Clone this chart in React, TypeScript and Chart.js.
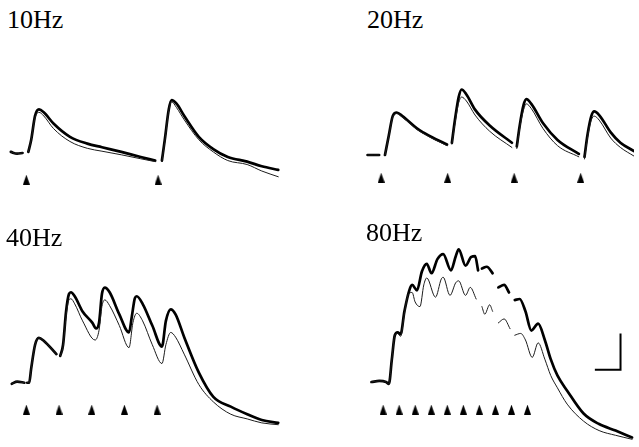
import React, { useEffect, useRef } from "react";
import { Chart, registerables } from "chart.js";

Chart.register(...registerables);

type Pair = [number, number | null];

// ---------- data: time (ms from first stimulus), amplitude (a.u.; scale bar = 10) ----------
// 10 Hz
const hz10Stimuli = [0, 100];
const hz10Control: Pair[] = [
  [-11.8, 0.3], [-7, -0.2], [-2.9, 0], [-1, null],
  [1.5, 0.3], [3.7, 3.7], [6.6, 10.3], [9.6, 12.1], [13.2, 11.3], [20.6, 8.2], [33.1, 4.5],
  [46.3, 2.6], [57.4, 1.6], [72.1, 0.3], [86.8, -1.1], [97.8, -2.1], [100, null],
  [102.9, -2.1], [105.1, 3.7], [108.1, 12.1], [110.3, 14.7], [114, 13.7], [119.9, 10.3],
  [130.9, 4.5], [141.9, 1.1], [152.9, -1.1], [167.6, -2.4], [178.7, -3.7], [191.2, -4.7],
];
const hz10Treated: Pair[] = [
  [-11.8, 0.3], [-7, -0.2], [-2.9, 0], [-1, null],
  [1.5, 0.3], [3.7, 3.7], [6.6, 9.8], [9.6, 11.3], [13.2, 10.3], [20.6, 6.8], [33.1, 3.2],
  [46.3, 1.3], [57.4, 0.5], [72.1, -0.5], [86.8, -1.6], [97.8, -2.4], [100, null],
  [102.9, -2.4], [105.1, 3.2], [108.1, 11.8], [110.3, 14.2], [114, 12.6], [119.9, 9.2],
  [130.9, 3.7], [141.9, 0.3], [152.9, -2.1], [167.6, -3.2], [178.7, -5], [191.2, -6.6],
];

// 20 Hz
const hz20Stimuli = [0, 50, 100, 150];
const hz20Control: Pair[] = [
  [-10.2, 0], [-1.5, 0], [0.5, null],
  [2.9, 0], [5.8, 5.5], [8.7, 10.8], [11.7, 11.8], [16, 10.8], [26.9, 7.4], [32, 6.2], [37.9, 5],
  [49.5, 2.9], [51, null],
  [53.2, 3.4], [55.4, 9.5], [58.3, 16.1], [60.5, 18.2], [64.1, 16.8], [70.6, 12.6], [81.6, 8.2],
  [98.3, 3.4], [100, null],
  [102, 2.4], [104.2, 8.2], [107.1, 13.9], [109.2, 15.5], [112.9, 14.2], [121.6, 8.9], [132.6, 4.2],
  [148.6, 0.3], [150.5, null],
  [152.9, -0.5], [155.1, 5.5], [158, 10.8], [160.2, 12.1], [163.9, 11.1], [172.6, 6.3],
  [179.9, 3.4], [190.1, 1.1],
];
const hz20Treated: Pair[] = [
  [-10.2, 0], [-1.5, 0], [0.5, null],
  [2.9, 0], [5.8, 5.3], [8.7, 10.5], [11.7, 11.5], [16, 10.5], [26.9, 7.1], [32, 5.9], [37.9, 4.7],
  [49.5, 2.6], [51, null],
  [53.2, 3.0], [55.4, 8.5], [58.3, 14.5], [60.5, 16.1], [64.1, 15], [70.6, 11.1], [81.6, 6.6],
  [98.3, 2.1], [100, null],
  [102, 1.8], [104.2, 7.5], [107.1, 12.6], [109.2, 14.2], [112.9, 12.9], [121.6, 7.4], [132.6, 2.6],
  [148.6, -0.5], [150.5, null],
  [152.9, -1.1], [155.1, 4.7], [158, 9.7], [160.2, 10.8], [163.9, 9.7], [172.6, 4.7],
  [179.9, 2.1], [190.1, -0.3],
];

// 40 Hz
const hz40Stimuli = [0, 25, 50, 75, 100];
const hz40Control: Pair[] = [
  [-11.1, -0.3], [-7, 0.3], [-1.5, 0], [-0.5, null],
  [0.7, 0], [2.2, 0], [3.7, 3.9], [6.7, 10.5], [9.6, 12.4], [13.3, 11.6], [23, 7.9], [24.5, null],
  [25.9, 7.4], [28.1, 10.5], [30.4, 19.7], [32.6, 24.5], [34.1, 25], [37, 23.9], [43, 19.7],
  [50.4, 16.6], [53.3, 15], [55.6, 16.6], [57.8, 24.5], [60, 26.3], [63.7, 25], [71.1, 18.9],
  [78.5, 13.9], [80.7, 18.4], [83, 23.4], [84.4, 23.9], [88.9, 21.8], [96.3, 15.8], [103.7, 10],
  [106.7, 17.1], [110.4, 20.3], [114.1, 18.9], [120.7, 12.6], [131.9, 2.8], [143, -3.9],
  [156.3, -6.6], [168.9, -8.7], [180, -10.3], [192.6, -11.1],
];
const hz40Treated: Pair[] = [
  [-11.1, -0.3], [-7, 0.3], [-1.5, 0], [-0.5, null],
  [0.7, 0], [2.2, 0], [3.7, 3.9], [6.7, 10.5], [9.6, 12.4], [13.3, 11.6], [23, 7.9], [24.5, null],
  [25.9, 7.4], [28.1, 10], [30.4, 18.4], [32.6, 22.9], [34.1, 23.2], [37, 21.8], [43, 17.1],
  [52.6, 11.8], [55.6, 14.5], [57.8, 21.1], [60, 22.9], [63.7, 21.3], [71.1, 15.8], [78.5, 9.7],
  [81.5, 16.6], [84.4, 19.2], [88.9, 17.1], [96.3, 10.5], [103.7, 5.3], [106.7, 10.5],
  [110.4, 13.9], [114.1, 12.6], [120.7, 7.9], [131.9, -0.5], [143, -5.3], [156.3, -8.7],
  [168.9, -10], [180, -11.1], [192.6, -11.6],
];

// 80 Hz
const hz80Stimuli = [0, 12.5, 25, 37.5, 50, 62.5, 75, 87.5, 100, 112.5];
const hz80Control: Pair[] = [
  [-9.1, 0], [-3, 0.3], [2.3, 0], [4.5, -0.5], [6.8, 6.3], [9.1, 12.9], [11.3, 13.7], [13.6, 13.2],
  [16.6, 19.5], [20.4, 25.3], [22.6, 26.8], [26.4, 25.3], [30.2, 30.5], [34, 32.6], [37.7, 30],
  [42.3, 33.9], [46.8, 35.3], [52.8, 30.8], [56.6, 34.7], [58.9, 36.6], [64.2, 32.1], [68.7, 34.5],
  [71.7, 34.7], [74, 30.8], [75.5, null],
  [77, 31.3], [80.8, 31.8], [85.3, 30], [87.5, null],
  [89.8, 26.1], [94.3, 26.8], [98.1, 24.7], [100.3, null],
  [102.6, 22.6], [106.4, 22.9], [110.9, 19.5], [115.5, 14.2], [120.8, 16.1], [126, 11.6],
  [130.6, 6.3], [135.8, 1.8], [143.4, -2.4], [156.2, -8.7], [168.3, -11.6], [181.1, -13.4],
  [194, -15.3],
];
const hz80Treated: Pair[] = [
  [-9.1, 0], [-3, 0.3], [2.3, 0], [4.5, -0.5], [6.8, 6.3], [9.1, 12.9], [11.3, 13.4], [13.6, 12.6],
  [16.6, 18.9], [19.6, 24.2], [22.6, 24.7], [24.9, 22.1], [28.7, 20.8], [31.7, 26.8], [34, 28.7],
  [40.8, 23.4], [45.3, 28.4], [46.8, 28.9], [52.1, 23.9], [56.6, 27.4], [58.9, 27.9], [64.2, 23.9],
  [67.9, 26.1], [72.5, 22.9], [74.5, null],
  [77, 20.8], [79.2, 18.7], [83, 21.3], [85.3, 19.5], [87.5, null],
  [89.8, 16.3], [94.3, 17.4], [98.9, 14.7], [100.5, null],
  [102.6, 12.9], [107.2, 13.4], [110.9, 11.6], [116.2, 6.8], [120.8, 10.8], [126, 6.3],
  [130.6, 1.8], [135.8, -1.6], [143.4, -6.1], [156.2, -10.8], [168.3, -13.4], [181.1, -14.7],
  [194, -15.8],
];

// scale bar (80 Hz panel): 20 ms, 10 a.u.
const scaleBarMs = 20;
const scaleBarAmp = 10;

// ---------- layout ----------
type PanelCfg = {
  title: string;
  control: Pair[];
  treated: Pair[];
  stimuli: number[];
  stimLevel: number;
  left: number;
  top: number;
  width: number;
  height: number;
  xMin: number;
  xMax: number;
  yMin: number;
  yMax: number;
  titleLeft: number;
  titleTop: number;
  scaleBarAnchor?: [number, number];
};

const panels: PanelCfg[] = [
  {
    title: "10Hz", control: hz10Control, treated: hz10Treated, stimuli: hz10Stimuli, stimLevel: -7.4,
    left: 0, top: 40, width: 320, height: 190, xMin: -16.2, xMax: 219.1, yMin: -20, yMax: 30,
    titleLeft: 7, titleTop: 7,
  },
  {
    title: "20Hz", control: hz20Control, treated: hz20Treated, stimuli: hz20Stimuli, stimLevel: -6.3,
    left: 320, top: 42, width: 319, height: 190, xMin: -42.2, xMax: 190.1, yMin: -20, yMax: 30,
    titleLeft: 367, titleTop: 7,
  },
  {
    title: "40Hz", control: hz40Control, treated: hz40Treated, stimuli: hz40Stimuli, stimLevel: -7.4,
    left: 0, top: 233, width: 320, height: 209, xMin: -16.3, xMax: 220.7, yMin: -15, yMax: 40,
    titleLeft: 6, titleTop: 225,
  },
  {
    title: "80Hz", control: hz80Control, treated: hz80Treated, stimuli: hz80Stimuli, stimLevel: -7.6,
    left: 320, top: 232, width: 319, height: 213, xMin: -45.3, xMax: 195.5, yMin: -16, yMax: 40,
    titleLeft: 366, titleTop: 220, scaleBarAnchor: [185, 3.4],
  },
];

const toXY = (pairs: Pair[]) => pairs.map(([x, y]) => ({ x, y }));

function makeTriangle(): HTMLCanvasElement {
  const c = document.createElement("canvas");
  c.width = 7;
  c.height = 10;
  const ctx = c.getContext("2d")!;
  ctx.fillStyle = "#000";
  ctx.beginPath();
  ctx.moveTo(3.5, 0);
  ctx.lineTo(7, 10);
  ctx.lineTo(0, 10);
  ctx.closePath();
  ctx.fill();
  return c;
}

function Panel({ cfg }: { cfg: PanelCfg }) {
  const ref = useRef<HTMLCanvasElement | null>(null);
  useEffect(() => {
    if (!ref.current) return;
    const tri = makeTriangle();
    const datasets: any[] = [
      {
        label: "Treated",
        data: toXY(cfg.treated),
        borderColor: "#1c1c1c",
        borderWidth: 1,
        pointRadius: 0,
        spanGaps: false,
        cubicInterpolationMode: "monotone",
        borderCapStyle: "round",
        borderJoinStyle: "round",
      },
      {
        label: "Control",
        data: toXY(cfg.control),
        borderColor: "#000",
        borderWidth: 2.7,
        pointRadius: 0,
        spanGaps: false,
        cubicInterpolationMode: "monotone",
        borderCapStyle: "round",
        borderJoinStyle: "round",
      },
      {
        label: "Stimulus",
        data: cfg.stimuli.map((t) => ({ x: t, y: cfg.stimLevel })),
        showLine: false,
        pointStyle: tri,
        pointRadius: 5,
        backgroundColor: "#000",
        borderWidth: 0,
      },
    ];
    if (cfg.scaleBarAnchor) {
      const [ax, ay] = cfg.scaleBarAnchor;
      datasets.push({
        label: "Scale bar",
        data: [
          { x: ax - scaleBarMs, y: ay },
          { x: ax, y: ay },
          { x: ax, y: ay + scaleBarAmp },
        ],
        borderColor: "#000",
        borderWidth: 2,
        pointRadius: 0,
        tension: 0,
        borderCapStyle: "butt",
        borderJoinStyle: "miter",
      });
    }
    const chart = new Chart(ref.current, {
      type: "line",
      data: { datasets },
      options: {
        responsive: false,
        animation: false,
        events: [],
        layout: { padding: 0 },
        plugins: {
          legend: { display: false },
          tooltip: { enabled: false },
          title: { display: false },
        },
        scales: {
          x: { type: "linear", display: false, min: cfg.xMin, max: cfg.xMax },
          y: { type: "linear", display: false, min: cfg.yMin, max: cfg.yMax },
        },
      },
    });
    return () => chart.destroy();
  }, [cfg]);
  return (
    <canvas
      ref={ref}
      width={cfg.width}
      height={cfg.height}
      style={{
        position: "absolute",
        left: cfg.left,
        top: cfg.top,
        width: cfg.width,
        height: cfg.height,
      }}
    />
  );
}

export default function App() {
  return (
    <div
      style={{
        position: "absolute",
        left: 0,
        top: 0,
        width: 639,
        height: 447,
        background: "#fff",
        overflow: "hidden",
      }}
    >
      {panels.map((p) => (
        <Panel key={p.title} cfg={p} />
      ))}
      {panels.map((p) => (
        <div
          key={p.title + "-t"}
          style={{
            position: "absolute",
            left: p.titleLeft,
            top: p.titleTop,
            fontFamily: "'Liberation Serif', 'Times New Roman', serif",
            fontSize: 26,
            lineHeight: 1,
            color: "#000",
            whiteSpace: "nowrap",
          }}
        >
          {p.title}
        </div>
      ))}
    </div>
  );
}
